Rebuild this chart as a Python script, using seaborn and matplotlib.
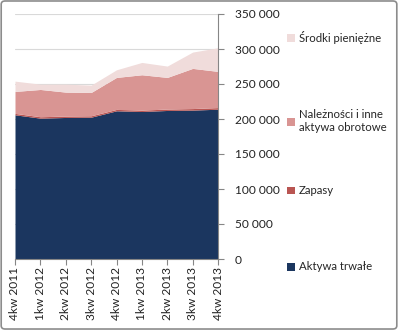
import matplotlib
matplotlib.use("Agg")
import matplotlib.pyplot as plt
import seaborn as sns
import numpy as np
import pandas as pd
from matplotlib.ticker import FuncFormatter, MultipleLocator
from matplotlib.patches import Patch, FancyBboxPatch

quarters = ["4kw 2011", "1kw 2012", "2kw 2012", "3kw 2012", "4kw 2012",
            "1kw 2013", "2kw 2013", "3kw 2013", "4kw 2013"]
aktywa_trwale = [206000, 201200, 202200, 202600, 211700, 210700, 212200, 212700, 214000]
zapasy = [2000, 2000, 2000, 2000, 2000, 2000, 2000, 2200, 2300]
naleznosci = [31400, 39000, 34200, 33300, 45700, 50500, 45200, 57400, 51700]
srodki = [14700, 7600, 11400, 10500, 10900, 17600, 16200, 23300, 33800]

series_names = ["Aktywa trwałe", "Zapasy", "Należności i inne\naktywa obrotowe", "Środki pieniężne"]
colors = ["#1B365F", "#B95552", "#D99593", "#F0DCDB"]

df = pd.DataFrame({"kw": quarters, series_names[0]: aktywa_trwale, series_names[1]: zapasy,
                   series_names[2]: naleznosci, series_names[3]: srodki})

sns.set_style("white")
plt.rcParams["font.family"] = ["Lato", "DejaVu Sans"]

fig = plt.figure(figsize=(3.98, 3.30), dpi=100)
ax = fig.add_axes([15/398, 1-259/330, (218-15)/398, (259-14)/330])

x = np.arange(len(quarters))
ax.stackplot(x, [df[n] for n in series_names], colors=colors, labels=series_names, linewidth=0, zorder=2)

ax.set_xlim(0, len(quarters)-1)
ax.set_ylim(0, 350000)
ax.yaxis.set_major_locator(MultipleLocator(50000))
ax.yaxis.set_major_formatter(FuncFormatter(lambda v, p: f"{int(v):,}".replace(",", " ")))
ax.yaxis.tick_right()
ax.grid(axis="y", color="#D9D9D9", linewidth=0.8, zorder=0)
ax.set_axisbelow(True)
ax.set_xticks(x)
ax.set_xticklabels(quarters, rotation=90, fontsize=8.6, color="#222222")
for sp in ["top", "left"]:
    ax.spines[sp].set_visible(False)
ax.spines["right"].set_color("#868686")
ax.spines["bottom"].set_color("#868686")
ax.tick_params(axis="y", which="both", right=True, length=4, color="#868686", labelsize=8.6,
               labelcolor="#222222", pad=8)
ax.tick_params(axis="x", bottom=True, length=4, color="#868686", pad=2)

# legend entries (top to bottom), each placed at its own vertical centre
legend_y = [37, 121, 191, 267]
for name, col, yc in zip(series_names[::-1], colors[::-1], legend_y):
    fig.legend([Patch(facecolor=col, edgecolor="none")], [name], loc="center left",
               bbox_to_anchor=(287/398, 1-yc/330), frameon=False, fontsize=8.2,
               handlelength=0.7, handleheight=0.7, handletextpad=0.35,
               borderaxespad=0, borderpad=0)

border = FancyBboxPatch((0.003, 0.003), 0.994, 0.994, boxstyle="round,pad=0,rounding_size=0.01",
                        transform=fig.transFigure, facecolor="none", edgecolor="#8C8C8C", linewidth=1.2)
fig.patches.append(border)

fig.savefig("out.png", dpi=100)
